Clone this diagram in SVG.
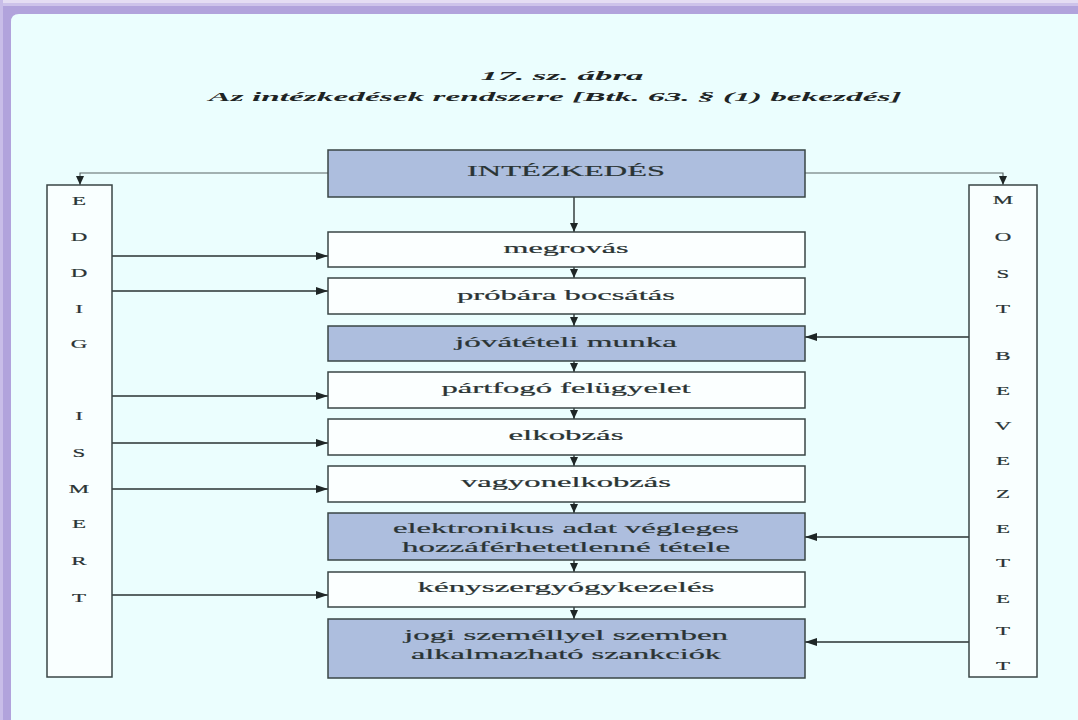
<svg xmlns="http://www.w3.org/2000/svg" width="1078" height="720" viewBox="0 0 1078 720">
  <defs>
    <marker id="ah" markerUnits="userSpaceOnUse" markerWidth="12" markerHeight="8" refX="12" refY="4" orient="auto">
      <path d="M0,0 L12,4 L0,8 z" fill="#1e2626"/>
    </marker>
    <marker id="av" markerUnits="userSpaceOnUse" markerWidth="9" markerHeight="8" refX="9" refY="4" orient="auto">
      <path d="M0,0 L9,4 L0,8 z" fill="#1e2626"/>
    </marker>
    <style>
      .box { stroke: #3a4646; stroke-width: 1.5; }
      .white { fill: #fbffff; }
      .blue { fill: #adbede; }
      .side { fill: #f9ffff; stroke: #3a4646; stroke-width: 1.5; }
      .lbl { font-family: "Liberation Serif", "Times New Roman", serif; font-size: 14px; fill: #2a3434; stroke: #2a3434; stroke-width: 0.2; text-anchor: middle; }
      .ttl { font-family: "Liberation Serif", "Times New Roman", serif; font-size: 13px; font-weight: bold; font-style: italic; fill: #1e2424; text-anchor: middle; }
      .let { font-family: "Liberation Serif", "Times New Roman", serif; font-size: 13.5px; fill: #2a3434; stroke: #2a3434; stroke-width: 0.2; text-anchor: middle; }
      .arr { fill: none; stroke: #2a3232; stroke-width: 1.4; }
      .thin { fill: none; stroke: #5a6464; stroke-width: 1.1; }
    </style>
  </defs>

  <!-- frame -->
  <rect x="0" y="0" width="1078" height="720" fill="#b1a3dc"/>
  <rect x="0" y="0" width="1078" height="3" fill="#e4ddf3"/>
  <rect x="0" y="3" width="1078" height="3" fill="#cdc3ea"/>
  <rect x="0" y="0" width="3" height="720" fill="#c8bde8"/>
  <path d="M19,14 H1078 V720 H11 V22 Q11,14 19,14 z" fill="#ebfefe"/>

  <!-- title -->
  <g id="title">
    <text class="ttl" x="562" y="80" textLength="163" lengthAdjust="spacingAndGlyphs">17. sz. ábra</text>
    <text class="ttl" x="555" y="101" textLength="693" lengthAdjust="spacingAndGlyphs">Az intézkedések rendszere [Btk. 63. § (1) bekezdés]</text>
  </g>

  <!-- connectors -->
  <g id="connectors">
    <path class="thin" d="M328,173 H80 V185" marker-end="url(#av)"/>
    <path class="thin" d="M805,173 H1003 V185" marker-end="url(#av)"/>
    <path class="arr" d="M574,197 V232" stroke-width="2.2" marker-end="url(#av)"/>
    <path class="arr" d="M574,267 V278" marker-end="url(#av)"/>
    <path class="arr" d="M574,314 V326" marker-end="url(#av)"/>
    <path class="arr" d="M574,361 V372" marker-end="url(#av)"/>
    <path class="arr" d="M574,408 V419" marker-end="url(#av)"/>
    <path class="arr" d="M574,455 V466" marker-end="url(#av)"/>
    <path class="arr" d="M574,502 V513" marker-end="url(#av)"/>
    <path class="arr" d="M574,560 V572" marker-end="url(#av)"/>
    <path class="arr" d="M574,607 V619" marker-end="url(#av)"/>
    <path class="arr" d="M112,256 H328" marker-end="url(#ah)"/>
    <path class="arr" d="M112,291 H328" marker-end="url(#ah)"/>
    <path class="arr" d="M112,396 H328" marker-end="url(#ah)"/>
    <path class="arr" d="M112,443 H328" marker-end="url(#ah)"/>
    <path class="arr" d="M112,489 H328" marker-end="url(#ah)"/>
    <path class="arr" d="M112,595 H328" marker-end="url(#ah)"/>
    <path class="arr" d="M969,337 H805" marker-end="url(#ah)"/>
    <path class="arr" d="M969,537 H805" marker-end="url(#ah)"/>
    <path class="arr" d="M969,642 H805" marker-end="url(#ah)"/>
  </g>

  <!-- central nodes -->
  <g id="n-intezkedes">
    <rect class="box blue" x="328" y="150" width="477" height="47"/>
    <text class="lbl" x="566" y="176" textLength="198" lengthAdjust="spacingAndGlyphs">INTÉZKEDÉS</text>
  </g>
  <g id="n-megrovas">
    <rect class="box white" x="328" y="232" width="477" height="35"/>
    <text class="lbl" x="566" y="253" textLength="125" lengthAdjust="spacingAndGlyphs">megrovás</text>
  </g>
  <g id="n-probara">
    <rect class="box white" x="328" y="278" width="477" height="36"/>
    <text class="lbl" x="566" y="300" textLength="218" lengthAdjust="spacingAndGlyphs">próbára bocsátás</text>
  </g>
  <g id="n-jovatetel">
    <rect class="box blue" x="328" y="326" width="477" height="35"/>
    <text class="lbl" x="566" y="347" textLength="222" lengthAdjust="spacingAndGlyphs">jóvátételi munka</text>
  </g>
  <g id="n-partfogo">
    <rect class="box white" x="328" y="372" width="477" height="36"/>
    <text class="lbl" x="566" y="393" textLength="249" lengthAdjust="spacingAndGlyphs">pártfogó felügyelet</text>
  </g>
  <g id="n-elkobzas">
    <rect class="box white" x="328" y="419" width="477" height="36"/>
    <text class="lbl" x="566" y="440" textLength="115" lengthAdjust="spacingAndGlyphs">elkobzás</text>
  </g>
  <g id="n-vagyon">
    <rect class="box white" x="328" y="466" width="477" height="36"/>
    <text class="lbl" x="566" y="487" textLength="210" lengthAdjust="spacingAndGlyphs">vagyonelkobzás</text>
  </g>
  <g id="n-elektronikus">
    <rect class="box blue" x="328" y="513" width="477" height="47"/>
    <text class="lbl" x="566" y="533" textLength="346" lengthAdjust="spacingAndGlyphs">elektronikus adat végleges</text>
    <text class="lbl" x="566" y="552" textLength="328" lengthAdjust="spacingAndGlyphs">hozzáférhetetlenné tétele</text>
  </g>
  <g id="n-kenyszer">
    <rect class="box white" x="328" y="572" width="477" height="35"/>
    <text class="lbl" x="566" y="592" textLength="297" lengthAdjust="spacingAndGlyphs">kényszergyógykezelés</text>
  </g>
  <g id="n-jogi">
    <rect class="box blue" x="328" y="619" width="477" height="59"/>
    <text class="lbl" x="566" y="640" textLength="324" lengthAdjust="spacingAndGlyphs">jogi személlyel szemben</text>
    <text class="lbl" x="566" y="659" textLength="310" lengthAdjust="spacingAndGlyphs">alkalmazható szankciók</text>
  </g>

  <!-- left side node -->
  <g id="n-eddig">
    <rect class="side" x="47" y="185" width="65" height="492"/>
    <g transform="translate(79,0) scale(1.7,1)">
      <text class="let" x="0" y="205">E</text>
      <text class="let" x="0" y="241">D</text>
      <text class="let" x="0" y="277">D</text>
      <text class="let" x="0" y="313">I</text>
      <text class="let" x="0" y="348">G</text>
      <text class="let" x="0" y="420">I</text>
      <text class="let" x="0" y="457">S</text>
      <text class="let" x="0" y="493">M</text>
      <text class="let" x="0" y="528">E</text>
      <text class="let" x="0" y="565">R</text>
      <text class="let" x="0" y="602">T</text>
    </g>
  </g>

  <!-- right side node -->
  <g id="n-most">
    <rect class="side" x="969" y="185" width="68" height="492"/>
    <g transform="translate(1003,0) scale(1.7,1)">
      <text class="let" x="0" y="204">M</text>
      <text class="let" x="0" y="241">O</text>
      <text class="let" x="0" y="278">S</text>
      <text class="let" x="0" y="313">T</text>
      <text class="let" x="0" y="360">B</text>
      <text class="let" x="0" y="395">E</text>
      <text class="let" x="0" y="430">V</text>
      <text class="let" x="0" y="465">E</text>
      <text class="let" x="0" y="498">Z</text>
      <text class="let" x="0" y="533">E</text>
      <text class="let" x="0" y="567">T</text>
      <text class="let" x="0" y="603">E</text>
      <text class="let" x="0" y="635">T</text>
      <text class="let" x="0" y="670">T</text>
    </g>
  </g>
</svg>
